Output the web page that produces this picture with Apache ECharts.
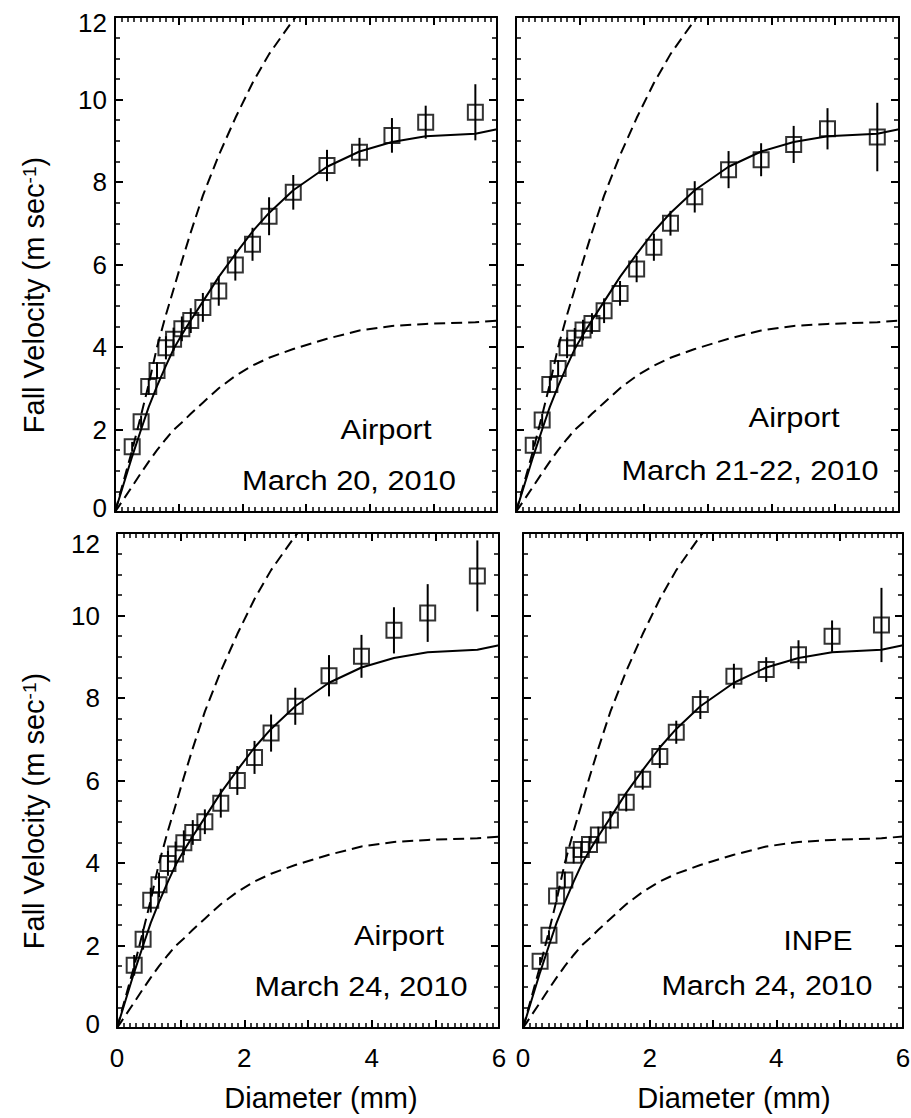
<!DOCTYPE html>
<html lang="en">
<head>
    <meta charset="UTF-8">
    <title>Fall Velocity</title>
    <style>
        html, body {
            margin: 0;
            padding: 0;
            background: #fff;
        }

        #main {
            width: 911px;
            height: 1118px;
        }
    </style>
</head>
<body>
<div id="main"></div>
<script src="https://cdn.jsdelivr.net/npm/echarts@6/dist/echarts.min.js"></script>
<script>

    // bin diameters (mm), same bins in every panel
    let diameters = [0.27, 0.41, 0.53, 0.66, 0.80, 0.92, 1.05, 1.19, 1.38, 1.63, 1.89, 2.16, 2.42, 2.80, 3.33, 3.84, 4.35, 4.88, 5.66];

    // mean fall velocity (m/s) and half length of the error bar
    let velMar20 = [1.58, 2.19, 3.04, 3.43, 3.98, 4.19, 4.44, 4.64, 4.96, 5.36, 5.99, 6.49, 7.17, 7.75, 8.40, 8.72, 9.13, 9.45, 9.69];
    let errMar20 = [0.12, 0.15, 0.20, 0.20, 0.28, 0.28, 0.30, 0.30, 0.35, 0.36, 0.38, 0.40, 0.46, 0.42, 0.38, 0.35, 0.42, 0.40, 0.68];

    let velMar21 = [1.62, 2.23, 3.09, 3.48, 3.98, 4.21, 4.41, 4.57, 4.88, 5.30, 5.89, 6.42, 7.00, 7.64, 8.30, 8.54, 8.91, 9.29, 9.09];
    let errMar21 = [0.12, 0.15, 0.20, 0.20, 0.25, 0.25, 0.25, 0.25, 0.30, 0.30, 0.32, 0.33, 0.30, 0.38, 0.45, 0.40, 0.45, 0.50, 0.83];

    let velMar24 = [1.52, 2.15, 3.10, 3.47, 3.99, 4.22, 4.49, 4.74, 5.00, 5.45, 6.00, 6.56, 7.15, 7.80, 8.54, 9.01, 9.64, 10.06, 10.96];
    let errMar24 = [0.25, 0.25, 0.30, 0.30, 0.30, 0.30, 0.30, 0.30, 0.30, 0.35, 0.35, 0.40, 0.45, 0.45, 0.50, 0.52, 0.56, 0.70, 0.86];

    let velInpe = [1.62, 2.25, 3.20, 3.59, 4.19, 4.33, 4.45, 4.68, 5.04, 5.47, 6.03, 6.58, 7.17, 7.84, 8.53, 8.69, 9.05, 9.50, 9.77];
    let errInpe = [0.10, 0.12, 0.15, 0.20, 0.20, 0.20, 0.20, 0.20, 0.22, 0.22, 0.25, 0.28, 0.28, 0.35, 0.30, 0.30, 0.35, 0.38, 0.90];

    // reference curves (solid fit, upper and lower dashed bounds)
    let curveD = [0, 0.27, 0.41, 0.53, 0.66, 0.80, 0.92, 1.05, 1.19, 1.38, 1.63, 1.89, 2.16, 2.42, 2.80, 3.33, 3.84, 4.35, 4.88, 5.66, 6.00];
    let fitV = [0, 1.35, 2.00, 2.55, 3.05, 3.55, 3.95, 4.30, 4.65, 5.10, 5.70, 6.25, 6.80, 7.25, 7.80, 8.37, 8.74, 8.97, 9.11, 9.17, 9.28];
    let upperV = [0, 1.50, 2.35, 3.10, 4.00, 4.78, 5.40, 6.08, 6.78, 7.67, 8.65, 9.55, 10.40, 11.10, 11.93, 12.90];
    let lowerV = [0, 0.62, 0.95, 1.22, 1.50, 1.77, 1.99, 2.17, 2.38, 2.65, 3.00, 3.30, 3.55, 3.74, 3.95, 4.20, 4.40, 4.51, 4.56, 4.60, 4.64];

    let font = '"Liberation Sans", Arial, Helvetica, sans-serif';
    let black = '#000';

    // panel layout
    let panels = [
        {
            grid: {left: 115, top: 17, width: 382, height: 495},
            vel: velMar20, err: errMar20, xLabels: false, yLabels: true, yMargin: 8, topShift: 12,
            notes: [
                {text: 'Airport', x: 386, y: 429, w: 91},
                {text: 'March 20, 2010', x: 349, y: 480, w: 214}
            ]
        },
        {
            grid: {left: 516, top: 17, width: 383, height: 495},
            vel: velMar21, err: errMar21, xLabels: false, yLabels: false, yMargin: 8, topShift: 12,
            notes: [
                {text: 'Airport', x: 794, y: 417, w: 91},
                {text: 'March 21-22, 2010', x: 750, y: 470, w: 257}
            ]
        },
        {
            grid: {left: 117, top: 533, width: 382, height: 495},
            vel: velMar24, err: errMar24, xLabels: true, yLabels: true, yMargin: 17, topShift: 22,
            notes: [
                {text: 'Airport', x: 399, y: 935, w: 90},
                {text: 'March 24, 2010', x: 361, y: 986, w: 213}
            ]
        },
        {
            grid: {left: 523, top: 533, width: 380, height: 495},
            vel: velInpe, err: errInpe, xLabels: true, yLabels: false, yMargin: 8, topShift: 22,
            notes: [
                {text: 'INPE', x: 818, y: 940, w: 69},
                {text: 'March 24, 2010', x: 767, y: 985, w: 211}
            ]
        }
    ];

    let measureCtx = document.createElement('canvas').getContext('2d');

    function stretch(text, size, width) {
        measureCtx.font = size + 'px "Liberation Sans"';
        return width / measureCtx.measureText(text).width;
    }

    function frameAxis(i, pos, min, max, interval, minorSplit, labels, margin) {
        return {
            type: 'value',
            gridIndex: i,
            position: pos,
            min: min,
            max: max,
            interval: interval,
            axisLine: {show: true, onZero: false, lineStyle: {color: black, width: 2}},
            axisTick: {show: true, inside: true, length: 8, lineStyle: {color: black, width: 2}},
            minorTick: {show: true, splitNumber: minorSplit, length: 5, lineStyle: {color: black, width: 1.5}},
            splitLine: {show: false},
            minorSplitLine: {show: false},
            axisLabel: {
                show: labels,
                margin: margin,
                fontSize: 26,
                fontFamily: font,
                color: black,
                formatter: function (v) {
                    return v % 2 === 0 ? String(v) : '';
                }
            }
        };
    }

    let grids = [], xAxes = [], yAxes = [], series = [], graphics = [];

    panels.forEach(function (p, i) {
        grids.push(Object.assign({outerBoundsMode: 'none'}, p.grid));
        xAxes.push(frameAxis(i, 'bottom', 0, 6, 1, 10, p.xLabels, 17));
        xAxes.push(frameAxis(i, 'top', 0, 6, 1, 10, false, 8));

        let left = frameAxis(i, 'left', 0, 12, 2, 4, p.yLabels, p.yMargin);
        // nudge the end labels inwards, as in the original figure
        left.axisLabel.formatter = function (v) {
            if (v === 12) return '{t|12}';
            if (v === 0) return '{b|0}';
            return String(v);
        };
        left.axisLabel.rich = {
            t: {fontSize: 26, fontFamily: font, color: black, padding: [p.topShift, 0, 0, 0]},
            b: {fontSize: 26, fontFamily: font, color: black, padding: [0, 0, 8, 0]}
        };
        yAxes.push(left);
        yAxes.push(frameAxis(i, 'right', 0, 12, 2, 4, false, 8));

        let ax = {xAxisIndex: 2 * i, yAxisIndex: 2 * i, silent: true, animation: false};

        series.push(Object.assign({
            type: 'line',
            symbol: 'none',
            data: curveD.map(function (d, k) { return [d, fitV[k]]; }),
            lineStyle: {color: black, width: 2}
        }, ax));
        series.push(Object.assign({
            type: 'line',
            symbol: 'none',
            data: upperV.map(function (v, k) { return [curveD[k], v]; }),
            lineStyle: {color: black, width: 2, type: [11, 6]}
        }, ax));
        series.push(Object.assign({
            type: 'line',
            symbol: 'none',
            data: curveD.map(function (d, k) { return [d, lowerV[k]]; }),
            lineStyle: {color: black, width: 2, type: [11, 6]}
        }, ax));
        // error bars
        series.push(Object.assign({
            type: 'custom',
            data: diameters.map(function (d, k) { return [d, p.vel[k], p.err[k]]; }),
            encode: {x: 0, y: 1},
            renderItem: function (params, api) {
                let x = api.value(0), y = api.value(1), e = api.value(2);
                let a = api.coord([x, y - e]), b = api.coord([x, y + e]);
                return {
                    type: 'line',
                    shape: {x1: a[0], y1: a[1], x2: b[0], y2: b[1]},
                    style: {stroke: black, lineWidth: 2}
                };
            }
        }, ax));
        series.push(Object.assign({
            type: 'scatter',
            symbol: 'rect',
            symbolSize: 15,
            data: diameters.map(function (d, k) { return [d, p.vel[k]]; }),
            itemStyle: {color: 'rgba(0,0,0,0)', borderColor: black, borderWidth: 2}
        }, ax));

        p.notes.forEach(function (n) {
            graphics.push({
                type: 'text',
                x: n.x,
                y: n.y,
                scaleX: stretch(n.text, 28, n.w),
                style: {
                    text: n.text,
                    fontSize: 28,
                    fontFamily: font,
                    fill: black,
                    align: 'center',
                    verticalAlign: 'middle'
                }
            });
        });
    });

    // axis titles
    [295, 811].forEach(function (cy) {
        graphics.push({
            type: 'text',
            x: 34,
            y: cy,
            rotation: Math.PI / 2,
            style: {
                text: 'Fall Velocity (m sec{sup|-1})',
                fontSize: 29,
                fontFamily: font,
                fill: black,
                align: 'center',
                verticalAlign: 'middle',
                rich: {
                    sup: {fontSize: 19, fontFamily: font, fill: black, verticalAlign: 'top'}
                }
            }
        });
    });
    [321, 734].forEach(function (cx) {
        graphics.push({
            type: 'text',
            x: cx,
            y: 1098,
            style: {
                text: 'Diameter (mm)',
                fontSize: 29,
                fontFamily: font,
                fill: black,
                align: 'center',
                verticalAlign: 'middle'
            }
        });
    });

    let myChart = echarts.init(document.getElementById('main'), null, {renderer: 'svg'});
    myChart.setOption({
        backgroundColor: '#fff',
        animation: false,
        grid: grids,
        xAxis: xAxes,
        yAxis: yAxes,
        series: series,
        graphic: graphics
    });

</script>
</body>
</html>
